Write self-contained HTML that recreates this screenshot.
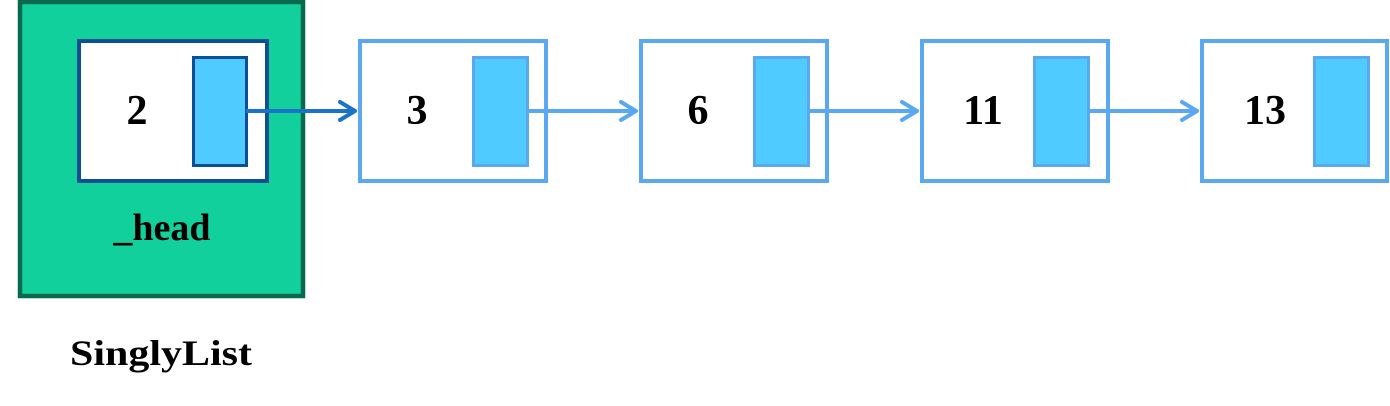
<!DOCTYPE html>
<html><head><style>html,body{margin:0;padding:0;background:#fff;}svg{display:block}</style></head>
<body>
<svg width="1390" height="406" viewBox="0 0 1390 406" xmlns="http://www.w3.org/2000/svg" font-family="Liberation Serif, serif" font-weight="bold">
<rect x="20" y="2" width="283" height="294" fill="#12d09c" stroke="#076a4e" stroke-width="4.5"/>
<rect x="79" y="41" width="188" height="140" fill="#fff" stroke="#0c4f94" stroke-width="4"/>
<rect x="193.5" y="57.5" width="53" height="108" fill="#50cbff" stroke="#0c4f94" stroke-width="3"/>
<text x="137" y="124" font-size="42" text-anchor="middle">2</text>
<text x="162" y="240" font-size="38" text-anchor="middle">_head</text>
<text x="161" y="365" font-size="36" text-anchor="middle" textLength="182" lengthAdjust="spacingAndGlyphs">SinglyList</text>
<line x1="246" y1="111" x2="354" y2="111" stroke="#1a73c9" stroke-width="4"/>
<polyline points="340,102 355,111 340,120" fill="none" stroke="#1a73c9" stroke-width="4" stroke-linecap="round" stroke-linejoin="round"/>
<g stroke="#5aa9f0" stroke-width="4">
<rect x="360" y="41" width="186" height="140" fill="#fff"/>
<rect x="641" y="41" width="186" height="140" fill="#fff"/>
<rect x="922" y="41" width="186" height="140" fill="#fff"/>
<rect x="1202" y="41" width="185" height="140" fill="#fff"/>
<rect x="473.5" y="57.5" width="54" height="108" fill="#50cbff" stroke-width="3"/>
<rect x="754.5" y="57.5" width="54" height="108" fill="#50cbff" stroke-width="3"/>
<rect x="1034.5" y="57.5" width="54" height="108" fill="#50cbff" stroke-width="3"/>
<rect x="1314.5" y="57.5" width="54" height="108" fill="#50cbff" stroke-width="3"/>
<line x1="528" y1="111" x2="635" y2="111"/>
<line x1="809" y1="111" x2="916" y2="111"/>
<line x1="1089" y1="111" x2="1196" y2="111"/>
<g fill="none" stroke-linecap="round" stroke-linejoin="round">
<polyline points="621,102 636,111 621,120"/>
<polyline points="902,102 917,111 902,120"/>
<polyline points="1182,102 1197,111 1182,120"/>
</g>
</g>
<text x="417" y="124" font-size="42" text-anchor="middle">3</text>
<text x="698" y="124" font-size="42" text-anchor="middle">6</text>
<text x="983" y="124" font-size="42" text-anchor="middle">11</text>
<text x="1265" y="124" font-size="42" text-anchor="middle">13</text>
</svg>
</body></html>
